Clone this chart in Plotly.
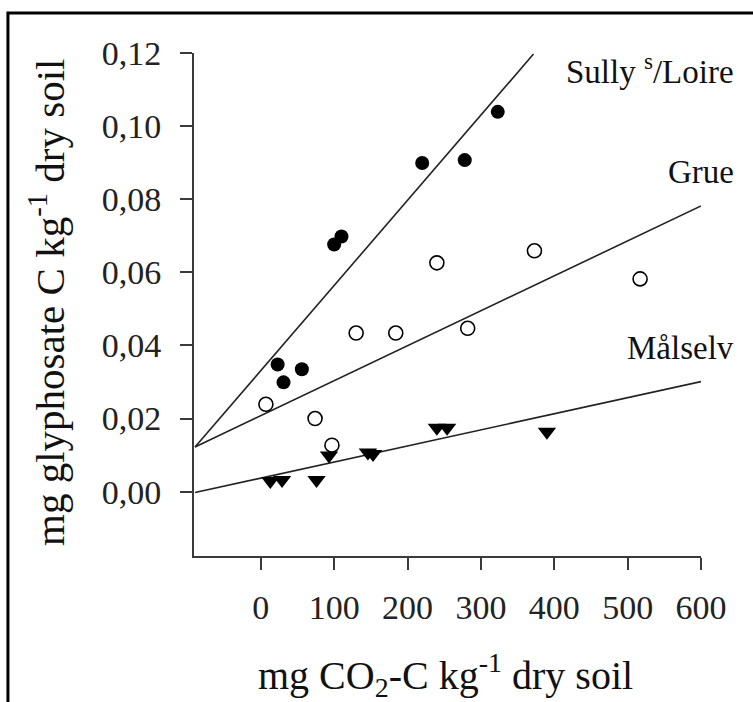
import plotly.graph_objects as go

# CO2-C respired (mg/kg dry soil) vs. glyphosate C mineralised (mg/kg dry soil)
sully_x = [23, 31, 56, 100, 110, 220, 278, 323]
sully_y = [0.0348, 0.0299, 0.0335, 0.0676, 0.0698, 0.0899, 0.0907, 0.1039]

grue_x = [7, 74, 97, 130, 184, 240, 282, 373, 517]
grue_y = [0.0239, 0.0200, 0.0127, 0.0434, 0.0434, 0.0626, 0.0447, 0.0659, 0.0582]

malselv_x = [13, 29, 76, 93, 146, 153, 240, 254, 390]
malselv_y = [0.0029, 0.0032, 0.0032, 0.0099, 0.0107, 0.0103, 0.0175, 0.0175, 0.0164]

# Fitted regression lines: (intercept, slope, x start, x end)
sully_fit = (0.0331, 2.33e-4, -89.6, 371.7)
grue_fit = (0.0208, 9.56e-5, -89.6, 600)
malselv_fit = (0.0037, 4.4e-5, -89.6, 600)

x_ticks = [0, 100, 200, 300, 400, 500, 600]
y_ticks = [0.00, 0.02, 0.04, 0.06, 0.08, 0.10, 0.12]

# Site names, placed to the right of each fitted line (paper coordinates)
site_labels = [("Sully <sup>s</sup>/Loire", 0.968), ("Grue", 0.763), ("Målselv", 0.414)]

SERIF = "Liberation Serif, Times New Roman, serif"
INK = "#111111"
AXIS = "#3a3a3a"

fig = go.Figure()

for (b0, b1, xa, xb) in (sully_fit, grue_fit, malselv_fit):
    fig.add_trace(go.Scatter(
        x=[xa, xb], y=[b0 + b1 * xa, b0 + b1 * xb], mode="lines",
        line=dict(color="#222222", width=1.6), showlegend=False, hoverinfo="skip"))

fig.add_trace(go.Scatter(
    x=sully_x, y=sully_y, mode="markers", name="Sully s/Loire",
    marker=dict(symbol="circle", size=14, color="black", line=dict(width=0))))
fig.add_trace(go.Scatter(
    x=grue_x, y=grue_y, mode="markers", name="Grue",
    marker=dict(symbol="circle-open", size=14, color="black", line=dict(width=1.6))))
fig.add_trace(go.Scatter(
    x=malselv_x, y=malselv_y, mode="markers", name="Målselv",
    marker=dict(symbol="triangle-down", size=16, color="black", line=dict(width=0))))

for text, yv in site_labels:
    fig.add_annotation(x=1.07, y=yv, xref="paper", yref="paper", text=text, showarrow=False,
                       xanchor="right", yanchor="middle",
                       font=dict(family=SERIF, size=33, color=INK))

# Axis titles
fig.add_annotation(x=0.497, y=-0.237, xref="paper", yref="paper",
                   text="mg CO<sub>2</sub>-C kg<sup>-1</sup> dry soil", showarrow=False,
                   xanchor="center", yanchor="middle", font=dict(family=SERIF, size=40, color=INK))
fig.add_annotation(x=-0.29, y=0.505, xref="paper", yref="paper", textangle=-90,
                   text="mg glyphosate C kg<sup>-1</sup> dry soil", showarrow=False,
                   xanchor="center", yanchor="middle", font=dict(family=SERIF, size=41, color=INK))

# Outer frame around the whole figure
fig.add_shape(type="rect", xref="paper", yref="paper",
              x0=-0.367, x1=1.2, y0=-0.4, y1=1.0797,
              line=dict(color="black", width=3), fillcolor="rgba(0,0,0,0)", layer="above")

fig.update_layout(
    width=753, height=702,
    margin=dict(l=194, r=52, t=53, b=146, pad=0),
    paper_bgcolor="white", plot_bgcolor="white",
    showlegend=False, separators=", ",
    font=dict(family=SERIF, color=INK),
    xaxis=dict(range=[-91, 600], tickvals=x_ticks, ticks="outside", ticklen=12,
               tickwidth=1.6, tickcolor=AXIS, showline=True, linecolor=AXIS, linewidth=2,
               showgrid=False, zeroline=False, tickfont=dict(family=SERIF, size=34, color="#222"),
               ticklabelstandoff=8),
    yaxis=dict(range=[-0.0176, 0.12], tickvals=y_ticks, tickformat=".2f", ticks="outside",
               ticklen=12, tickwidth=1.6, tickcolor=AXIS, showline=True, linecolor=AXIS,
               linewidth=2, showgrid=False, zeroline=False,
               tickfont=dict(family=SERIF, size=34, color="#222"), ticklabelstandoff=12),
)

fig.write_html("out.html")
